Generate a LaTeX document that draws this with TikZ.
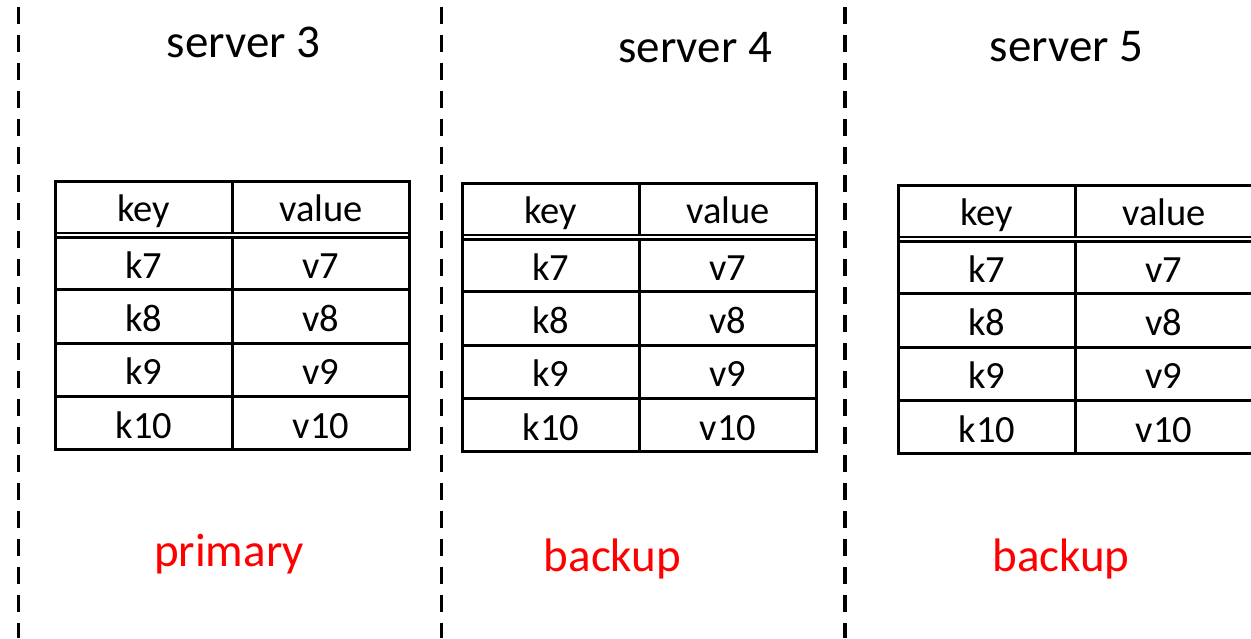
\documentclass[tikz,border=0pt]{standalone}
\usepackage{fontspec}
\setmainfont{Carlito}
\tikzset{
  sep/.style={line width=3.3pt, dash pattern=on 16.5pt off 11.5pt, dash phase=21pt},
  grid/.style={line width=3pt},
  title/.style={font=\fontsize{47}{56}\selectfont, inner sep=0pt, anchor=base},
  cell/.style={font=\fontsize{38.5}{46}\selectfont, inner sep=0pt, anchor=base},
  role/.style={font=\fontsize{47}{56}\selectfont, text=red, inner sep=0pt, anchor=base}
}
% key/value table: #1 left edge, #2 top edge, #3 name prefix
\newcommand\kvtable[3]{%
  \begin{scope}[shift={(#1,#2)}]
    \draw[grid] (0,0) rectangle (354.5,268.7);
    \draw[grid] (177.5,0) -- (177.5,268.7);
    \foreach \r in {1,2,3}
      \draw[grid] (0,55.5+\r*53.3) -- (354.5,55.5+\r*53.3);
    % double rule under the header
    \draw[line width=7pt] (0,54.3) -- (354.5,54.3);
    \draw[white, line width=2pt] (1.5,54.3) -- (353,54.3);
    \node[cell] (#3-key) at (88.75,40) {key};
    \node[cell] (#3-val) at (266,40) {value};
    \foreach \i/\n in {1/7,2/8,3/9,4/10}{
      \node[cell] (#3-k\n) at (88.75,44+\i*53.3) {k\n};
      \node[cell] (#3-v\n) at (266,44+\i*53.3) {v\n};
    }
  \end{scope}}
\begin{document}
\begin{tikzpicture}[x=1pt, y=-1pt]
  \useasboundingbox (0,0) rectangle (1251,638);
  \fill[white] (0,0) rectangle (1251,638);

  % dashed separators between servers
  \draw[sep] (18.3,0) -- (18.3,638);
  \draw[sep] (441.5,0) -- (441.5,638);
  \draw[sep] (845,0) -- (845,638);

  % server titles
  \node[title] (s3) at (243.5,57.7) {server 3};
  \node[title] (s4) at (695,62.7) {server 4};
  \node[title] (s5) at (1066.5,61.7) {server 5};

  % tables
  \kvtable{55}{181}{t3}
  \kvtable{462}{183}{t4}
  \kvtable{898}{185}{t5}

  % roles
  \node[role] (r3) at (229,566.7) {primary};
  \node[role] (r4) at (612.5,571.7) {backup};
  \node[role] (r5) at (1061,571.7) {backup};
\end{tikzpicture}
\end{document}
